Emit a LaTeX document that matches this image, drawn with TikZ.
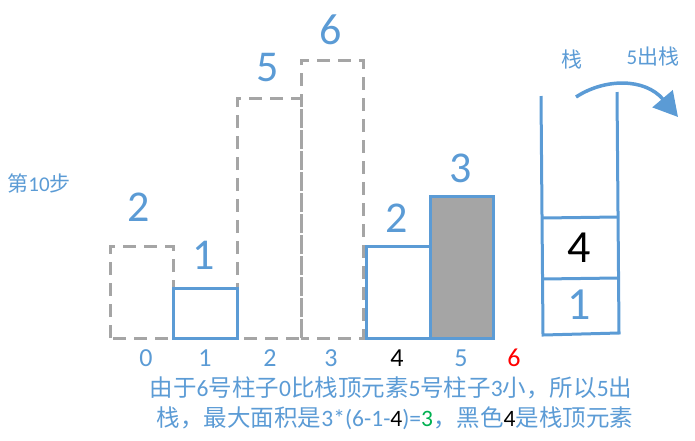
\documentclass[tikz,border=0pt]{standalone}
\usepackage{fontspec}
\setmainfont{Carlito}
\newfontfamily\cjk{Noto Sans CJK SC}
\usetikzlibrary{arrows.meta}
\definecolor{hblue}{RGB}{91,155,213}
\definecolor{hgray}{RGB}{165,165,165}
\definecolor{hgreen}{RGB}{0,176,80}
\newcommand{\hfont}[1]{\fontsize{#1}{#1}\selectfont}

\begin{document}
\begin{tikzpicture}[x=1pt,y=-1pt]
    \useasboundingbox (0,0) rectangle (695,440);
    \tikzstyle{oldbar} = [draw=hgray, line width=3pt, dash pattern=on 13pt off 8pt]
    \tikzstyle{bar} = [draw=hblue, line width=3pt]
    \tikzstyle{hnum} = [text=hblue, inner sep=0pt, font=\hfont{44}]
    \tikzstyle{idx} = [text=hblue, inner sep=0pt, font=\hfont{26}]
    \tikzstyle{note} = [text=hblue, inner sep=0pt, font=\hfont{21}]
    \tikzstyle{cell} = [inner sep=0pt, font=\hfont{46}]

    % bars
    \draw[oldbar] (110,338) rectangle (173,246);
    \draw[oldbar] (237,338) rectangle (301,98);
    \draw[oldbar] (301,338) rectangle (363,60);
    \draw[bar] (173,338) rectangle (237,288);
    \draw[bar] (366,338) rectangle (430,246);
    \draw[bar, fill=hgray] (430,338) rectangle (493,196);

    \node[hnum] (h0) at (139,207) {2};
    \node[hnum] (h1) at (204,255) {1};
    \node[hnum] (h2) at (268,68) {5};
    \node[hnum] (h3) at (331,30) {6};
    \node[hnum] (h4) at (397,218) {2};
    \node[hnum] (h5) at (461,168) {3};

    % indices
    \node[idx] (i0) at (146,358) {0};
    \node[idx] (i1) at (205,358) {1};
    \node[idx] (i2) at (270,358) {2};
    \node[idx] (i3) at (331,358) {3};
    \node[idx, text=black] (i4) at (397,358) {4};
    \node[idx] (i5) at (461,358) {5};
    \node[idx, text=red] (i6) at (514,358) {6};

    \node[note] (step) at (39,183) {{\cjk 第}10{\cjk 步}};

    % stack
    \draw[bar] (541,96) -- (543,335) -- (619,333) -- (617,92);
    \draw[bar] (542,218) -- (618,217);
    \draw[bar] (542,279) -- (618,278);
    \node[cell] (s1) at (579,248) {4};
    \node[cell, text=hblue] (s0) at (579,305) {1};
    \node[note] (stk) at (572,60) {\cjk 栈};
    \node[note] (pop) at (653,57) {5{\cjk 出栈}};
    \coordinate (a0) at (576,97);
    \coordinate (a1) at (678,117);
    \draw[draw=hblue, line width=3.5pt, -{Triangle[length=24pt,width=26pt]}]
      (a0) .. controls (605,78) and (645,78) .. (a1);

    % text
    \node[note, font=\hfont{23.5}] (l1) at (391,388)
      {{\cjk 由于}6{\cjk 号柱子}0{\cjk 比栈顶元素}5{\cjk 号柱子}3{\cjk 小，所以}5{\cjk 出}};
    \node[note, font=\hfont{23.5}] (l2) at (395,418)
      {{\cjk 栈，最大面积是}3*(6-1-\textcolor{black}{4})=\textcolor{hgreen}{3}{\cjk ，黑色}\textcolor{black}{4}{\cjk 是栈顶元素}};
\end{tikzpicture}
\end{document}
